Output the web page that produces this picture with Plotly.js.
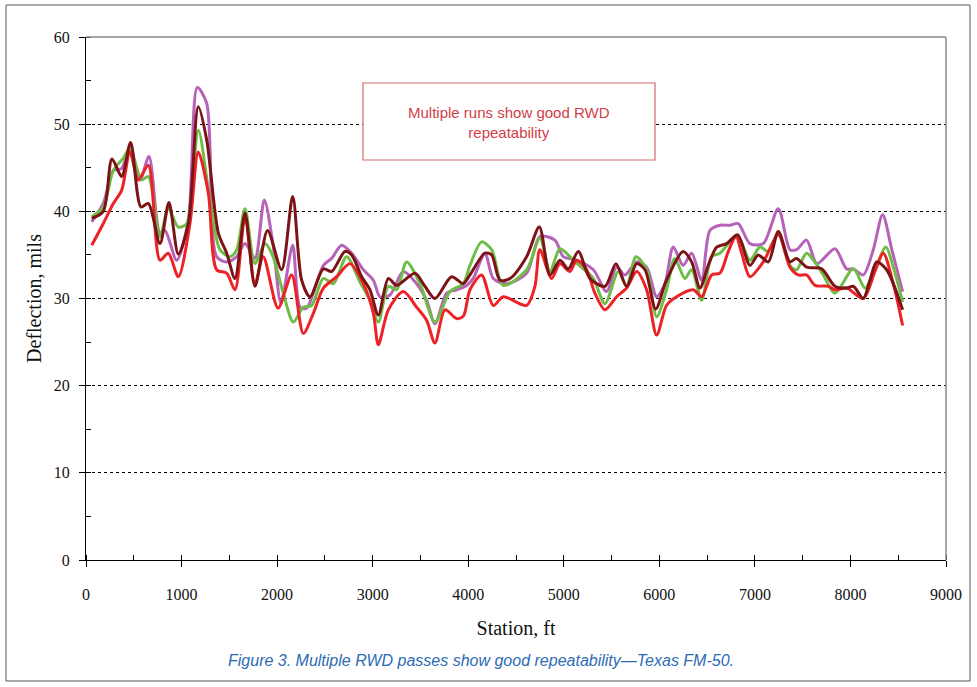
<!DOCTYPE html>
<html>
<head>
<meta charset="utf-8">
<script src="https://cdn.plot.ly/plotly-3.0.1.min.js"></script>
<style>html,body{margin:0;padding:0;background:#fff}#chart{width:977px;height:687px}</style>
</head>
<body>
<div id="chart"></div>
<script>
// Run 1 (purple)
const purpleX = [60,181,286,373,460,565,659,774,827,949,1071,1165,1263,1367,1472,1577,1664,1768,1866,1960,2040,2163,2240,2309,2484,2571,2675,2780,2902,3007,3077,3181,3320,3460,3564,3652,3774,3878,3983,4052,4175,4262,4402,4611,4750,4907,4995,5134,5309,5448,5553,5640,5763,5867,5972,6059,6146,6249,6338,6443,6529,6634,6739,6826,6948,7088,7245,7367,7436,7541,7650,7838,7960,8030,8134,8239,8337,8431,8546];
const purpleY = [38.8,40.9,44.7,44.9,47.4,43.6,46.3,37.5,37.8,34.4,39.0,54.2,52.4,34.8,34.2,34.8,36.3,34.6,41.3,36.0,29.5,36.1,29.0,28.9,33.8,34.6,36.1,35.2,33.3,32.1,30.2,30.4,33.1,31.7,29.8,27.1,30.6,31.0,31.5,32.3,35.2,32.3,31.7,32.9,37.1,36.7,34.8,34.4,33.3,30.8,33.6,32.7,34.2,33.6,30.2,31.7,35.9,33.8,35.2,32.1,37.8,38.4,38.4,38.6,36.3,36.3,40.3,35.6,35.6,36.7,34.0,35.7,33.4,33.4,32.7,35.6,39.6,35.7,30.8];

// Run 2 (green)
const greenX = [60,181,286,390,460,582,652,774,861,966,1054,1175,1297,1402,1507,1577,1664,1768,1873,1950,2065,2170,2274,2361,2484,2588,2728,2867,2972,3059,3164,3251,3355,3495,3652,3809,3948,4018,4140,4245,4367,4611,4750,4856,4960,5099,5204,5309,5431,5571,5658,5755,5867,5972,6075,6162,6267,6338,6443,6547,6634,6756,6826,6948,7053,7140,7245,7367,7436,7541,7640,7716,7838,8030,8152,8256,8371,8448,8546];
const greenY = [39.4,40.5,44.7,46.1,47.2,43.6,44.0,37.1,40.3,38.2,38.6,49.3,41.3,35.6,34.8,35.6,40.3,34.0,36.3,35.0,30.6,27.3,29.0,29.2,32.3,31.7,34.8,31.9,29.8,27.3,31.4,31.0,34.2,31.7,27.3,30.8,31.7,33.8,36.5,35.6,31.5,33.3,36.9,33.1,35.7,34.4,33.4,32.3,29.4,33.1,31.4,34.8,33.3,27.9,31.0,34.6,32.3,33.3,29.8,34.8,35.2,36.7,37.1,34.4,35.9,35.4,37.5,33.8,33.3,35.2,34.0,32.7,30.6,33.4,31.2,33.3,35.9,33.6,29.6];

// Run 3 (red)
const redX = [60,181,286,373,460,547,652,774,861,966,1088,1175,1280,1367,1472,1559,1664,1768,1855,2010,2152,2274,2379,2484,2623,2762,2902,3007,3059,3164,3320,3460,3564,3652,3757,3878,3950,4018,4140,4262,4367,4611,4698,4750,4873,4960,5065,5134,5239,5326,5431,5553,5658,5763,5867,5972,6075,6180,6355,6443,6547,6634,6722,6802,6862,6948,7088,7245,7367,7454,7541,7630,7768,7838,7960,8134,8256,8344,8448,8546];
const redY = [36.1,38.6,40.9,42.4,46.8,43.6,45.3,34.4,35.2,32.5,38.6,46.8,42.1,33.3,32.9,31.0,39.4,31.7,34.8,28.9,32.7,26.0,28.3,31.2,32.5,34.0,31.7,28.3,24.7,28.7,30.8,29.0,27.5,24.9,28.7,27.7,28.0,31.0,32.7,29.2,30.2,29.2,31.4,35.6,32.3,34.0,33.1,34.4,33.3,30.6,28.7,30.2,31.2,33.1,31.0,25.8,29.2,30.2,31.0,30.2,32.7,32.9,35.4,37.1,35.2,32.5,34.2,37.3,33.6,32.7,32.7,31.5,31.4,31.0,31.2,30.0,33.1,35.2,31.7,26.9];

// Run 4 (dark red)
const darkX = [60,181,272,373,467,575,652,774,868,966,1071,1175,1263,1385,1472,1559,1664,1768,1900,2047,2163,2257,2344,2484,2571,2710,2780,2885,2972,3059,3164,3251,3442,3547,3652,3826,3948,4018,4175,4245,4332,4437,4611,4744,4856,4960,5047,5152,5274,5431,5546,5658,5763,5850,5962,6075,6249,6338,6425,6512,6600,6705,6820,6948,7035,7140,7245,7367,7436,7541,7699,7838,7960,8030,8134,8204,8274,8379,8546];
const darkY = [39.2,40.0,46.0,44.0,47.9,40.5,40.9,36.3,41.0,35.1,38.6,52.0,48.2,37.5,35.2,32.3,39.8,31.4,37.8,33.3,41.7,32.1,30.2,33.4,33.1,35.4,35.0,32.5,31.0,28.1,32.3,31.5,32.9,31.4,30.0,32.5,31.7,32.7,35.2,35.0,32.1,32.3,34.8,38.2,32.7,34.4,33.4,35.4,32.3,31.4,34.0,31.4,34.0,33.3,28.8,32.1,35.4,34.2,31.2,33.8,35.9,36.3,37.3,33.8,35.0,34.2,37.7,34.2,34.6,33.6,33.4,31.4,31.2,31.4,30.0,32.1,34.2,33.3,28.7];

const yTicks = [0,10,20,30,40,50,60];
const xTicks = [0,1000,2000,3000,4000,5000,6000,7000,8000,9000];

const mk = (x, y, color, name) => ({
  x: x, y: y, type: 'scatter', mode: 'lines', name: name,
  line: {color: color, width: 3, shape: 'spline', smoothing: 0.8},
  hoverinfo: 'x+y'
});

const data = [
  mk(purpleX, purpleY, '#b762b9', 'Run 1'),
  mk(greenX, greenY, '#6dbd46', 'Run 2'),
  mk(redX, redY, '#ec2227', 'Run 3'),
  mk(darkX, darkY, '#7c1417', 'Run 4')
];

const serif = 'Liberation Serif, Times New Roman, serif';
const sans = 'Liberation Sans, Arial, sans-serif';

const layout = {
  width: 977, height: 687,
  margin: {l: 86, r: 31, t: 37, b: 127},
  paper_bgcolor: '#ffffff', plot_bgcolor: '#ffffff',
  showlegend: false,
  xaxis: {
    range: [0, 9000], tickvals: xTicks, ticktext: xTicks.map(String),
    showgrid: false, zeroline: false,
    showline: true, linecolor: '#000', linewidth: 1,
    ticks: 'outside', ticklen: 6, tickcolor: '#000', tickwidth: 1,
    minor: {dtick: 500, tick0: 0, ticks: 'inside', ticklen: 5, tickcolor: '#000', showgrid: false},
    ticklabelstandoff: 14,
    tickfont: {family: serif, size: 16, color: '#111'},
    title: {text: 'Station, ft', font: {family: serif, size: 20, color: '#111'}, standoff: 18}
  },
  yaxis: {
    range: [0, 60], tickvals: yTicks, ticktext: yTicks.map(String),
    showgrid: true, gridcolor: '#000', gridwidth: 1, griddash: '3px,3px',
    zeroline: false,
    showline: true, linecolor: '#000', linewidth: 1,
    ticks: 'outside', ticklen: 6, tickcolor: '#000', tickwidth: 1,
    minor: {dtick: 5, tick0: 0, ticks: 'inside', ticklen: 5, tickcolor: '#000', showgrid: false},
    ticklabelstandoff: 6,
    tickfont: {family: serif, size: 16, color: '#111'},
    title: {text: 'Deflection, mils', font: {family: serif, size: 20, color: '#111'}, standoff: 6}
  },
  shapes: [
    // plot frame top and right
    {type: 'line', xref: 'paper', yref: 'paper', x0: 0, x1: 1, y0: 1, y1: 1, line: {color: '#8a8a8a', width: 1.5}},
    {type: 'line', xref: 'paper', yref: 'paper', x0: 1, x1: 1, y0: 0, y1: 1, line: {color: '#8a8a8a', width: 1.5}},
    // annotation box
    {type: 'rect', xref: 'paper', yref: 'paper', x0: (363-86)/860, x1: (655-86)/860, y0: (560-160)/523, y1: (560-83)/523,
     line: {color: '#d46a6e', width: 1.2}, fillcolor: '#ffffff', layer: 'above'},
    // outer figure border
    {type: 'rect', xref: 'paper', yref: 'paper', x0: (6-86)/860, x1: (970-86)/860, y0: (560-681)/523, y1: (560-5)/523,
     line: {color: '#555', width: 1}}
  ],
  annotations: [
    {xref: 'paper', yref: 'paper', x: (509-86)/860, y: (560-122)/523, xanchor: 'center', yanchor: 'middle',
     text: 'Multiple runs show good RWD<br>repeatability', showarrow: false, align: 'center',
     font: {family: sans, size: 15, color: '#d2404a'}},
    {xref: 'paper', yref: 'paper', x: (481-86)/860, y: (560-660)/523, xanchor: 'center', yanchor: 'middle',
     text: '<i>Figure 3. Multiple RWD passes show good repeatability—Texas FM-50.</i>', showarrow: false,
     font: {family: sans, size: 16, color: '#2d6cb3'}}
  ]
};

Plotly.newPlot('chart', data, layout, {displayModeBar: false, staticPlot: true});
</script>
</body>
</html>
